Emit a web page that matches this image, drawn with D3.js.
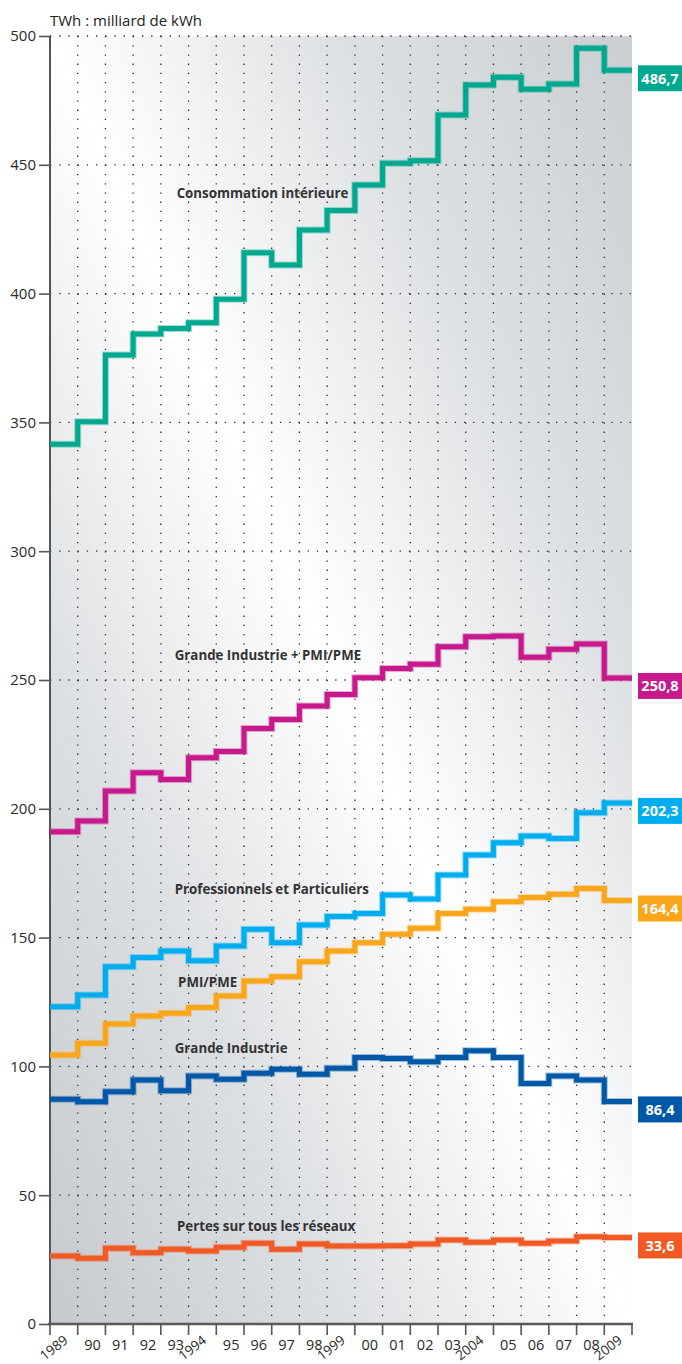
<!DOCTYPE html>
<html>
<head>
<meta charset="utf-8">
<script src="https://cdn.jsdelivr.net/npm/d3@7"></script>
<style>
  html, body { margin: 0; padding: 0; background: #fff; }
  svg { display: block; }
</style>
</head>
<body>
<svg id="chart" width="682" height="1364"></svg>
<script>
// ---- DATA ----
const years = [1989,1990,1991,1992,1993,1994,1995,1996,1997,1998,1999,2000,2001,2002,2003,2004,2005,2006,2007,2008,2009];
const yearLabels = ["1989","90","91","92","93","1994","95","96","97","98","1999","00","01","02","03","2004","05","06","07","08","2009"];
const rotatedLabels = ["1989","1994","1999","2004","2009"];
const yTicks = [0,50,100,150,200,250,300,350,400,450,500];

const consommation = [341.5,350.3,376.2,384.3,386.5,388.7,397.8,415.9,411.1,424.7,432.3,442.2,450.6,451.6,469.3,481.0,484.0,479.3,481.4,495.2,486.7];
const grandeIndPmi = [191.1,195.3,206.9,214.0,211.4,219.8,222.2,231.2,234.7,239.9,244.4,250.9,254.5,256.1,262.9,266.8,267.1,258.8,261.9,264.0,250.8];
const professionnels = [123.2,127.7,138.7,142.3,144.8,141.0,146.7,153.2,148.0,154.9,158.2,159.4,166.5,165.0,174.3,182.1,186.8,189.4,188.5,198.5,202.3];
const pmiPme = [104.4,109.0,116.5,119.6,120.6,122.9,127.3,133.2,134.8,140.6,144.8,148.0,151.3,153.6,159.4,161.0,163.9,165.6,166.8,169.1,164.4];
const grandeIndustrie = [87.2,86.3,90.2,94.7,90.5,96.3,95.0,97.3,98.9,97.0,99.3,103.5,103.1,101.8,103.5,106.1,103.5,93.4,96.3,94.7,86.4];
const pertes = [26.4,25.5,29.4,27.7,29.0,28.3,29.8,31.3,29.0,31.1,30.3,30.3,30.4,31.1,32.6,31.7,32.6,31.3,32.2,33.9,33.6];

const seriesNames = ["Consommation intérieure","Grande Industrie + PMI/PME","Professionnels et Particuliers","PMI/PME","Grande Industrie","Pertes sur tous les réseaux"];
const seriesValues = [consommation, grandeIndPmi, professionnels, pmiPme, grandeIndustrie, pertes];
const seriesColors = ["#00a88f","#c7198c","#00aeef","#f9a61b","#0058a6","#f15a25"];
const endLabels = ["486,7","250,8","202,3","164,4","86,4","33,6"];
// level (in TWh) of each series name's baseline, and the year index where it starts
const nameLabelLevel = [437, 257.8, 167, 131, 105.2, 36.1];
const nameLabelStart = [4.57, 4.5, 4.5, 4.62, 4.5, 4.58];

// ---- LAYOUT ----
const svg = d3.select("#chart");
const mLeft = 50, mRight = 632, mTop = 36, mBottom = 1324;

const x = d3.scaleLinear().domain([0, years.length]).range([mLeft, mRight]);
const y = d3.scaleLinear().domain([0, 500]).range([mBottom, mTop]);

// background gradient
const defs = svg.append("defs");
const grad = defs.append("linearGradient").attr("id", "bg")
  .attr("x1", 1).attr("y1", 0).attr("x2", 0).attr("y2", 1);
grad.append("stop").attr("offset", 0).attr("stop-color", "#cbcfd3");
grad.append("stop").attr("offset", 0.25).attr("stop-color", "#dde0e3");
grad.append("stop").attr("offset", 0.5).attr("stop-color", "#ffffff");
grad.append("stop").attr("offset", 0.75).attr("stop-color", "#dcdfe2");
grad.append("stop").attr("offset", 1).attr("stop-color", "#c6cace");

svg.append("rect")
  .attr("x", mLeft).attr("y", mTop)
  .attr("width", mRight - mLeft).attr("height", mBottom - mTop)
  .attr("fill", "url(#bg)");

// horizontal dotted grid
svg.append("g").selectAll("line").data(yTicks.filter(d => d > 0)).join("line")
  .attr("x1", mLeft).attr("x2", mRight)
  .attr("y1", d => y(d)).attr("y2", d => y(d))
  .attr("stroke", "#2a2a2a").attr("stroke-width", 1.3)
  .attr("stroke-dasharray", "1.3 7.9");

// vertical dotted grid
svg.append("g").selectAll("line").data(d3.range(1, years.length)).join("line")
  .attr("x1", d => x(d)).attr("x2", d => x(d))
  .attr("y1", mTop).attr("y2", mBottom)
  .attr("stroke", "#2a2a2a").attr("stroke-width", 1.3)
  .attr("stroke-dasharray", "1.3 7.9");

// title
svg.append("text").attr("x", 50).attr("y", 26)
  .attr("font-family", "Open Sans, sans-serif").attr("font-size", 15)
  .attr("fill", "#222").text("TWh : milliard de kWh");

// y axis
const yAxis = d3.axisLeft(y).tickValues(yTicks).tickSize(11).tickPadding(3);
const gy = svg.append("g").attr("transform", `translate(${mLeft},0)`).call(yAxis);
gy.select(".domain").attr("stroke", "#555").attr("stroke-width", 2).attr("d", `M-0,${mTop}V${mBottom}`);
gy.selectAll(".tick line").attr("stroke", "#555").attr("stroke-width", 1.6);
gy.selectAll(".tick text").attr("font-family", "Open Sans, sans-serif")
  .attr("font-size", 15).attr("fill", "#2a2a2a");

// x axis
const gx = svg.append("g").attr("transform", `translate(0,${mBottom})`);
gx.append("line").attr("x1", mLeft - 2).attr("x2", mRight + 1).attr("y1", 0).attr("y2", 0)
  .attr("stroke", "#5a5a5a").attr("stroke-width", 2.6);
gx.selectAll(".xt").data(d3.range(0, years.length + 1)).join("line").attr("class", "xt")
  .attr("x1", d => x(d)).attr("x2", d => x(d)).attr("y1", 0).attr("y2", 11)
  .attr("stroke", "#555").attr("stroke-width", 1.6);

gx.selectAll(".xl").data(yearLabels).join("text").attr("class", "xl")
  .attr("font-family", "Open Sans, sans-serif").attr("fill", "#2a2a2a")
  .each(function(d, i) {
    const cx = x(i + 0.5);
    const t = d3.select(this);
    if (rotatedLabels.includes(d)) {
      t.attr("text-anchor", "end").attr("font-size", 13.5)
       .attr("transform", `translate(${cx + 5},${18}) rotate(-38)`)
       .text(d);
    } else {
      t.attr("text-anchor", "middle").attr("font-size", 14.5)
       .attr("x", cx + 1).attr("y", 26).text(d);
    }
  });

// step lines
const line = d3.line()
  .x(d => x(d.i)).y(d => y(d.v))
  .curve(d3.curveStepAfter);

seriesValues.forEach((vals, s) => {
  const pts = vals.map((v, i) => ({i, v}));
  pts.push({i: vals.length, v: vals[vals.length - 1]});
  svg.append("path").datum(pts).attr("d", line)
    .attr("fill", "none").attr("stroke", seriesColors[s]).attr("stroke-opacity", 0.35)
    .attr("stroke-width", 7).attr("stroke-linejoin", "miter");
  svg.append("path").datum(pts).attr("d", line)
    .attr("fill", "none").attr("stroke", seriesColors[s])
    .attr("stroke-width", 5).attr("stroke-linejoin", "miter");
});

// series name labels
seriesNames.forEach((name, s) => {
  svg.append("text")
    .attr("x", x(nameLabelStart[s])).attr("y", y(nameLabelLevel[s]))
    .attr("font-family", "Open Sans, sans-serif").attr("font-weight", 700)
    .attr("font-size", 13.3).attr("fill", "#333")
    .text(name);
});

// end value boxes
seriesValues.forEach((vals, s) => {
  const v = vals[vals.length - 1];
  const yy = y(v);
  const g = svg.append("g");
  g.append("rect").attr("x", 638).attr("y", yy - 5).attr("width", 44).attr("height", 26)
    .attr("fill", seriesColors[s]);
  g.append("text").attr("x", 660).attr("y", yy + 13.5)
    .attr("text-anchor", "middle")
    .attr("font-family", "Open Sans, sans-serif").attr("font-weight", 700)
    .attr("font-size", 14.5).attr("fill", "#fff")
    .text(endLabels[s]);
});
</script>
</body>
</html>
